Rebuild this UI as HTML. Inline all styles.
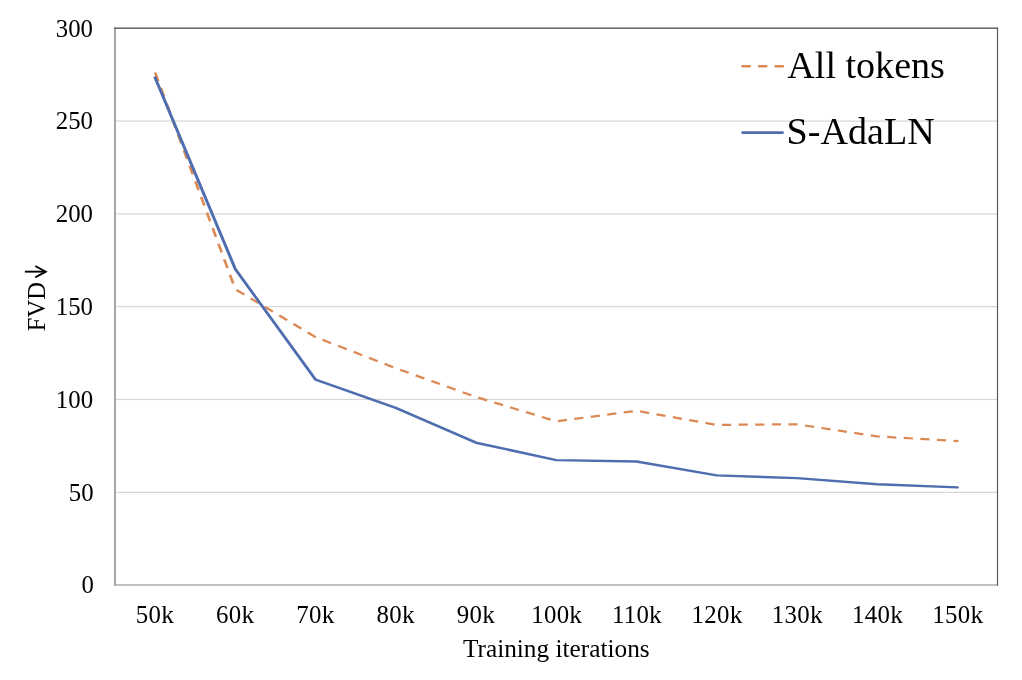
<!DOCTYPE html>
<html>
<head>
<meta charset="utf-8">
<title>FVD vs Training iterations</title>
<style>
  html, body { margin: 0; padding: 0; background: #ffffff; }
  body { width: 1022px; height: 680px; overflow: hidden; position: relative; font-family: "Liberation Serif", serif; }
  svg { display: block; position: absolute; left: 0; top: 0; }
  #labels { will-change: transform; filter: grayscale(1); }
  text { font-family: "Liberation Serif", serif; fill: #000000; }
  .tick { font-size: 25.3px; }
  .axis { font-size: 25.3px; }
  .fvd { font-size: 24.6px; }
  .legend { font-size: 38.1px; }
</style>
</head>
<body>
<svg id="chart" width="1022" height="680" viewBox="0 0 1022 680">
  <rect x="0" y="0" width="1022" height="680" fill="#ffffff"/>

  <!-- horizontal gridlines -->
  <g fill="#d9d9d9">
    <rect x="116" y="491.70" width="881" height="1.3"/>
    <rect x="116" y="398.80" width="881" height="1.3"/>
    <rect x="116" y="306.00" width="881" height="1.3"/>
    <rect x="116" y="213.25" width="881" height="1.3"/>
    <rect x="116" y="120.45" width="881" height="1.3"/>
  </g>

  <!-- plot frame / axis lines -->
  <rect x="114" y="584" width="883.5" height="1.9" fill="#bdbdbd"/>
  <rect x="114" y="27.4" width="2" height="558.5" fill="#a6a6a6"/>
  <rect x="114" y="27.4" width="884" height="1.6" fill="#6e6e6e"/>
  <rect x="996.9" y="27.4" width="1.2" height="558.4" fill="#5c5c5c"/>

  <!-- series: All tokens (dashed orange) -->
  <g transform="scale(1.2,1)">
    <path fill="none" stroke="#db8a56" stroke-width="2.25" stroke-linecap="butt" stroke-linejoin="round"
      d="M129.25,72.50 L131.88,81.03 M134.02,87.98 L136.69,96.61 M138.83,103.56 L141.49,112.19 M143.63,119.14 L146.29,127.77 M148.44,134.72 L151.10,143.34 M153.24,150.29 L155.90,158.92 M158.04,165.87 L160.71,174.50 M162.85,181.45 L165.51,190.08 M167.65,197.03 L170.31,205.65 M172.46,212.60 L175.12,221.23 M177.26,228.18 L179.92,236.81 M182.06,243.76 L184.72,252.39 M186.87,259.34 L189.53,267.97 M191.67,274.91 L194.33,283.54 M197.02,289.95 L203.60,294.66 M208.91,298.45 L215.50,303.16 M220.80,306.95 L227.39,311.66 M232.69,315.46 L239.28,320.16 M244.58,323.96 L251.17,328.67 M256.47,332.46 L262.97,337.10 L263.07,337.15 M268.83,339.83 L275.97,343.15 M281.73,345.83 L288.88,349.15 M294.64,351.83 L301.79,355.16 M307.54,357.84 L314.69,361.16 M320.45,363.84 L327.60,367.16 M333.39,369.74 L340.60,372.84 M346.42,375.35 L353.63,378.46 M359.44,380.96 L366.66,384.07 M372.47,386.57 L379.69,389.68 M385.50,392.18 L392.72,395.29 M398.56,397.68 L405.90,400.35 M411.81,402.50 L419.14,405.16 M425.05,407.31 L432.39,409.98 M438.30,412.13 L445.64,414.79 M451.55,416.94 L458.89,419.61 M464.84,421.10 L472.44,419.90 M478.57,418.94 L486.17,417.75 M492.29,416.79 L499.89,415.59 M506.01,414.63 L513.62,413.44 M519.74,412.47 L527.34,411.28 M533.44,411.44 L540.99,413.03 M547.08,414.32 L554.63,415.91 M560.71,417.19 L568.26,418.78 M574.34,420.07 L581.89,421.66 M587.97,422.94 L595.53,424.53 M601.67,424.86 L609.34,424.79 M615.51,424.74 L623.18,424.67 M629.36,424.61 L637.02,424.54 M643.20,424.49 L650.86,424.42 M657.04,424.36 L664.12,424.30 L664.70,424.41 M670.80,425.51 L678.39,426.88 M684.49,427.99 L692.07,429.36 M698.18,430.46 L705.76,431.84 M711.87,432.94 L719.45,434.31 M725.55,435.42 L730.98,436.40 L733.15,436.55 M739.32,436.99 L746.97,437.52 M753.14,437.96 L760.79,438.50 M766.95,438.93 L774.61,439.47 M780.77,439.90 L788.43,440.44 M794.59,440.87 L798.67,441.16"/>
  </g>

  <!-- series: S-AdaLN (solid blue) -->
  <g transform="scale(1.25,1)">
    <path fill="none" stroke="#4f6eaf" stroke-width="2.45" stroke-linecap="round" stroke-linejoin="round"
      d="M124.08,77.60 L188.26,269.10 L252.45,379.60 L316.63,407.80 L380.82,442.70 L445.00,460.10 L509.18,461.50 L573.37,475.40 L637.55,478.10 L701.74,484.20 L765.92,487.40"/>
  </g>

  <!-- legend keys -->
  <line x1="742.5" y1="66.2" x2="783.8" y2="66.2" stroke="#db8a56" stroke-width="2.6" stroke-linecap="round" stroke-dasharray="7.2 9.4"/>
  <line x1="742.5" y1="132.6" x2="782.6" y2="132.6" stroke="#4f6eaf" stroke-width="2.6" stroke-linecap="round"/>
</svg>

<svg id="labels" width="1022" height="680" viewBox="0 0 1022 680">
  <!-- y tick labels -->
  <g class="tick" text-anchor="end">
    <text transform="translate(93.00,36.6) scale(0.982,1)">300</text>
    <text transform="translate(93.00,129.0) scale(0.982,1)">250</text>
    <text transform="translate(93.00,221.8) scale(0.982,1)">200</text>
    <text transform="translate(93.00,314.9) scale(0.982,1)">150</text>
    <text transform="translate(93.10,408.2) scale(0.982,1)">100</text>
    <text transform="translate(93.70,500.5) scale(0.982,1)">50</text>
    <text transform="translate(93.85,593.45) scale(0.982,1)">0</text>
  </g>

  <!-- x tick labels -->
  <g class="tick" text-anchor="middle">
    <text transform="translate(155.1,623.4) scale(0.982,1)" letter-spacing="0.3">50<tspan font-size="25.9px">k</tspan></text>
    <text transform="translate(235.3,623.4) scale(0.982,1)" letter-spacing="0.3">60<tspan font-size="25.9px">k</tspan></text>
    <text transform="translate(315.6,623.4) scale(0.982,1)" letter-spacing="0.3">70<tspan font-size="25.9px">k</tspan></text>
    <text transform="translate(395.8,623.4) scale(0.982,1)" letter-spacing="0.3">80<tspan font-size="25.9px">k</tspan></text>
    <text transform="translate(476.0,623.4) scale(0.982,1)" letter-spacing="0.3">90<tspan font-size="25.9px">k</tspan></text>
    <text transform="translate(556.8,623.4) scale(0.982,1)" letter-spacing="0.3">100<tspan font-size="25.9px">k</tspan></text>
    <text transform="translate(637.0,623.4) scale(0.982,1)" letter-spacing="0.3">110<tspan font-size="25.9px">k</tspan></text>
    <text transform="translate(717.2,623.4) scale(0.982,1)" letter-spacing="0.3">120<tspan font-size="25.9px">k</tspan></text>
    <text transform="translate(797.4,623.4) scale(0.982,1)" letter-spacing="0.3">130<tspan font-size="25.9px">k</tspan></text>
    <text transform="translate(877.7,623.4) scale(0.982,1)" letter-spacing="0.3">140<tspan font-size="25.9px">k</tspan></text>
    <text transform="translate(957.9,623.4) scale(0.982,1)" letter-spacing="0.3">150<tspan font-size="25.9px">k</tspan></text>
  </g>

  <!-- axis titles -->
  <text class="axis" x="556.3" y="656.7" text-anchor="middle">Training iterations</text>
  <g transform="translate(45.3,331.2) rotate(-90)">
    <text class="fvd" x="0" y="0">FVD</text>
    <!-- down arrow drawn in rotated text space -->
    <g fill="none" stroke="#000" stroke-width="1.9" stroke-linecap="butt" stroke-linejoin="miter">
      <path d="M59.55,-20.4 L59.55,0.1"/>
      <path d="M53.9,-10.0 L59.55,0.4 L65.2,-10.0"/>
    </g>
  </g>

  <!-- legend labels -->
  <text class="legend" x="787.3" y="77.9">All tokens</text>
  <text class="legend" x="786.6" y="144.0">S-AdaLN</text>
</svg>
</body>
</html>
